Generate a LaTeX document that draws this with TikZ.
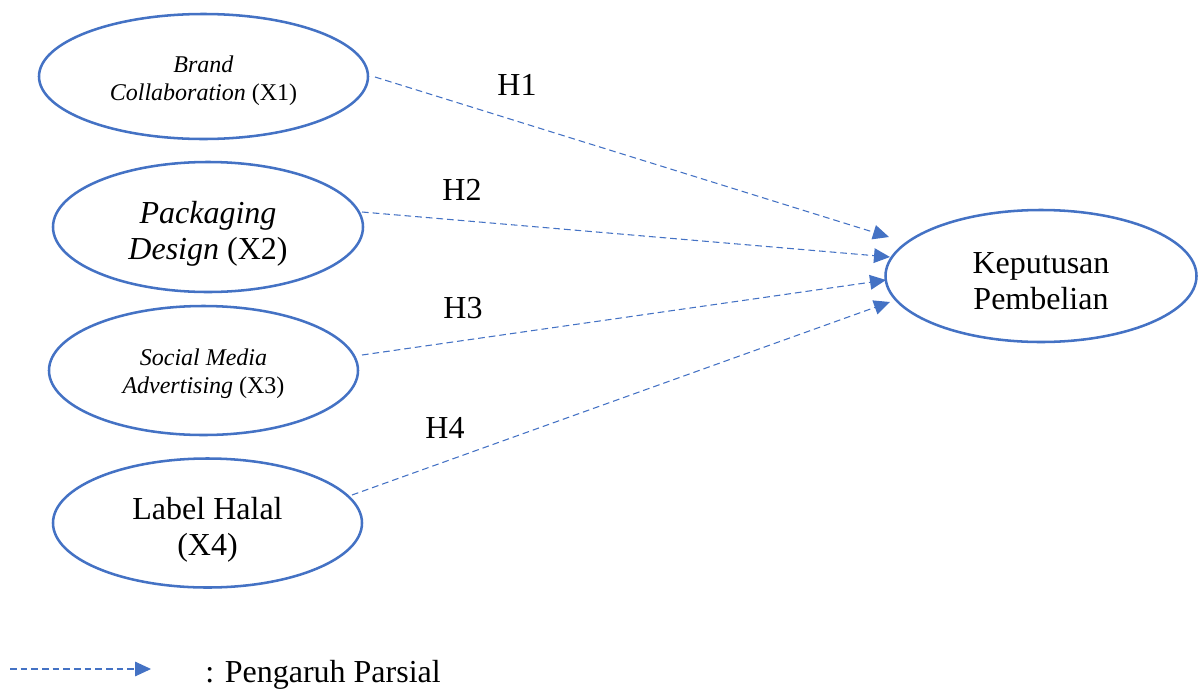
\documentclass[tikz,border=0pt]{standalone}
\usepackage{fontspec}
\setmainfont{Liberation Serif}
\usetikzlibrary{shapes.geometric,arrows.meta}
\definecolor{ob}{HTML}{4472C4}
\begin{document}
\begin{tikzpicture}[x=0.75pt,y=-0.75pt,
  var/.style={ellipse,draw=ob,line width=1.9pt,inner sep=0pt},
  vtxt/.style={align=center,text=black,inner sep=0pt},
  bigtxt/.style={font=\fontsize{24}{27}\selectfont},
  smalltxt/.style={font=\fontsize{18}{21}\selectfont},
  hyp/.style={draw=ob,line width=0.8pt,dash pattern=on 5pt off 3pt,-{Triangle[length=12pt,width=11pt,fill=ob]}},
  lab/.style={font=\fontsize{24}{27}\selectfont,inner sep=0pt}]
\useasboundingbox (0,0) rectangle (1203,689);
\node[var,minimum width=246.75pt,minimum height=93.75pt] (x1) at (203.5,76.5) {};
\node[var,minimum width=232.5pt,minimum height=97.5pt] (x2) at (208,227) {};
\node[var,minimum width=231.75pt,minimum height=96.75pt] (x3) at (203.5,370.5) {};
\node[var,minimum width=231.75pt,minimum height=96.75pt] (x4) at (207.5,523) {};
\node[var,minimum width=233.25pt,minimum height=99pt] (y) at (1041,276) {};
\node[vtxt,smalltxt] (x1t) at ([yshift=-3pt]x1.center) {\textit{Brand}\\\textit{Collaboration} (X1)};
\node[vtxt,bigtxt] (x2t) at ([yshift=-5pt]x2.center) {\textit{Packaging}\\\textit{Design} (X2)};
\node[vtxt,smalltxt] (x3t) at ([yshift=-2.5pt]x3.center) {\textit{Social Media}\\\textit{Advertising} (X3)};
\node[vtxt,bigtxt] (x4t) at ([yshift=-5pt]x4.center) {Label Halal\\(X4)};
\node[vtxt,bigtxt] (yt) at ([yshift=-4pt]y.center) {Keputusan\\Pembelian};
\coordinate (s1) at (375,77);
\coordinate (s2) at (362,212);
\coordinate (s3) at (362,355);
\coordinate (s4) at (352,495);
\coordinate (e1) at (889,237);
\coordinate (e2) at (890,257);
\coordinate (e3) at (886,280);
\coordinate (e4) at (890,302);
\draw[hyp] (s1) -- (e1);
\draw[hyp] (s2) -- (e2);
\draw[hyp] (s3) -- (e3);
\draw[hyp] (s4) -- (e4);
\node[lab] (h1) at (517,85) {H1};
\node[lab] (h2) at (462,190) {H2};
\node[lab] (h3) at (463,308) {H3};
\node[lab] (h4) at (445,428) {H4};
\coordinate (ls) at (10,669);
\coordinate (le) at (151,669);
\draw[hyp] (ls) -- (le);
\node[lab,anchor=base west] (legend) at (205,682) {: Pengaruh Parsial};
\end{tikzpicture}
\end{document}
